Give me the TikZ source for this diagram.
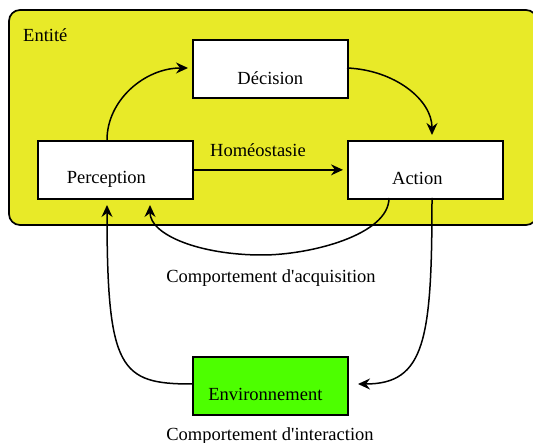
\documentclass[tikz,border=0pt]{standalone}
\usepackage{fontspec}
\setmainfont{Liberation Serif}
\usetikzlibrary{arrows.meta,calc}
\definecolor{entyellow}{RGB}{232,234,40}
\definecolor{envgreen}{RGB}{77,255,0}
\tikzset{
  box/.style={draw=black, line width=1.7pt, rectangle, minimum width=155pt, minimum height=58pt, inner sep=0pt, anchor=north west},
  lbl/.style={inner sep=0pt, font=\fontsize{18.5}{22}\selectfont},
  conn/.style={draw=black, line width=1.5pt, -{Stealth[length=12pt,width=11pt,inset=4pt]}},
}
\begin{document}
\begin{tikzpicture}[x=1pt,y=-1pt]
\useasboundingbox (0,0) rectangle (533,443);
\fill[white] (0,0) rectangle (533,443);
\begin{scope}
\clip (0,0) rectangle (533,443);
\draw[line width=1.7pt, fill=entyellow, rounded corners=11pt] (9,10) rectangle (537,225);
\end{scope}
\node[lbl, anchor=west] (ent) at (23,35) {Entité};
\node[box, fill=white] (dec) at (192,39) {};
\node[box, fill=white] (per) at (37,140) {};
\node[box, fill=white] (act) at (347,140) {};
\node[box, fill=envgreen] (env) at (192,356) {};
\node[lbl] (dect) at ($(dec.center)+(0,9)$) {Décision};
\node[lbl] (pert) at ($(per.center)+(-9,9)$) {Perception};
\node[lbl] (actt) at ($(act.center)+(-8,9)$) {Action};
\node[lbl] (envt) at ($(env.center)+(-5,9)$) {Environnement};
\node[lbl] (homeo) at (258,150) {Homéostasie};
\node[lbl] (acq) at (271,278) {Comportement d\textquotesingle acquisition};
\node[lbl] (inter) at (270,436) {Comportement d\textquotesingle interaction};
\coordinate (pTop) at (107,140);
\coordinate (dLeft) at (188,68);
\coordinate (dRight) at (347,68);
\coordinate (aTop) at (432,135);
\coordinate (aBotL) at (389,198);
\coordinate (aBotR) at (432,198);
\coordinate (pBotL) at (107,205);
\coordinate (pBotR) at (150,205);
\coordinate (eLeft) at (192,384);
\coordinate (eRight) at (358,384);
\draw[conn] (pTop) .. controls (107,100) and (145,68) .. (dLeft);
\draw[conn] (dRight) .. controls (395,70) and (432,100) .. (aTop);
\draw[conn] (per.east) -- ($(act.west)+(-4,0)$);
\draw[conn] (aBotL) .. controls (389,235) and (310,255) .. (262,255) .. controls (200,255) and (150,235) .. (pBotR);
\draw[conn] (aBotR) .. controls (432,340) and (425,384) .. (eRight);
\draw[conn] (eLeft) .. controls (120,384) and (107,370) .. (pBotL);
\end{tikzpicture}
\end{document}
